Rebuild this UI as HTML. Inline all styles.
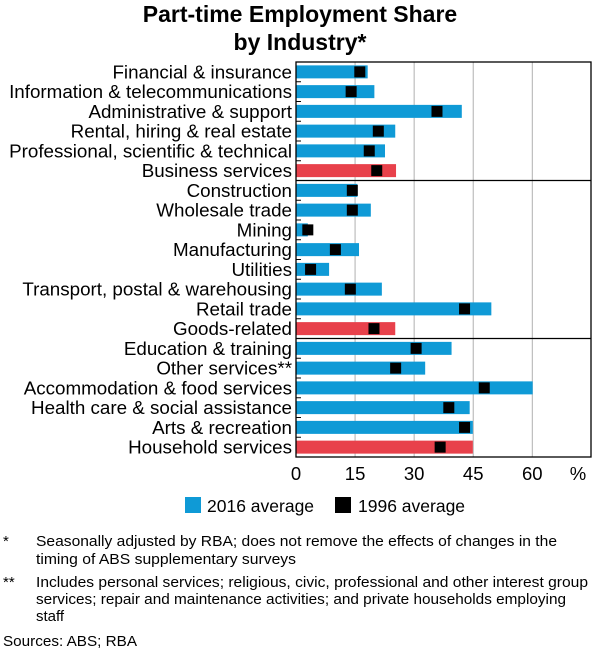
<!DOCTYPE html>
<html><head><meta charset="utf-8"><style>
body{margin:0;background:#fff;font-family:"Liberation Sans",Arial,sans-serif;}
#wrap{position:relative;width:600px;height:652px;overflow:hidden;}
</style></head><body><div id="wrap">
<svg id="chart" width="600" height="652" style="position:absolute;left:0;top:0">
<g font-size="15" font-family="Liberation Sans, Arial, sans-serif">
<text x="3" y="546">*</text>
<text><tspan x="36" y="546" textLength="521" lengthAdjust="spacingAndGlyphs">Seasonally adjusted by RBA; does not remove the effects of changes in the</tspan><tspan x="36" y="564" textLength="260" lengthAdjust="spacingAndGlyphs">timing of ABS supplementary surveys</tspan></text>
<text x="3" y="587">**</text>
<text><tspan x="36" y="587" textLength="552" lengthAdjust="spacingAndGlyphs">Includes personal services; religious, civic, professional and other interest group</tspan><tspan x="36" y="604" textLength="530" lengthAdjust="spacingAndGlyphs">services; repair and maintenance activities; and private households employing</tspan><tspan x="36" y="621">staff</tspan></text>
<text x="3" y="646" textLength="134" lengthAdjust="spacingAndGlyphs">Sources: ABS; RBA</text>
</g>
</svg>
</div>
<script>
const categories=["Financial & insurance","Information & telecommunications","Administrative & support","Rental, hiring & real estate","Professional, scientific & technical","Business services","Construction","Wholesale trade","Mining","Manufacturing","Utilities","Transport, postal & warehousing","Retail trade","Goods-related","Education & training","Other services**","Accommodation & food services","Health care & social assistance","Arts & recreation","Household services"];
const values2016=[18.2,19.9,42.1,25.2,22.6,25.4,15.6,19.0,3.0,16.0,8.4,21.8,49.6,25.2,39.5,32.8,60.1,44.1,44.9,44.9];
const values1996=[16.2,14.0,35.8,20.9,18.6,20.5,14.3,14.3,3.0,10.0,3.7,13.8,42.8,19.8,30.5,25.3,47.8,38.8,42.8,36.6];
const aggregates=["Business services","Goods-related","Household services"];
const ticks=[0,15,30,45,60];
const NS="http://www.w3.org/2000/svg";
const svg=document.getElementById('chart');
const L=296,R=591,T=62,B=457,xmax=74.9;
const x=v=>L+v*(532.3-L)/60;
const rowH=(B-T)/categories.length;
const y=i=>T+rowH*(i+0.5);
function mk(t,a){const e=document.createElementNS(NS,t);for(const k in a)e.setAttribute(k,a[k]);svg.appendChild(e);return e;}
function txt(s,a){const e=mk('text',a);e.textContent=s;return e;}
let e;
e=txt("Part-time Employment Share",{x:300,y:22,'text-anchor':'middle','font-size':23,'font-weight':'bold'});


e=txt("by Industry*",{x:300,y:50,'text-anchor':'middle','font-size':23,'font-weight':'bold'});


ticks.forEach(t=>{
 if(t>0&&t<xmax){e=mk('line',{x1:x(t),x2:x(t),y1:T,y2:B,stroke:'#b0b0b0','stroke-width':1});
 
 }
 e=txt(String(t),{x:x(t),y:480,'text-anchor':'middle','font-size':18.5});
 
 
});
e=txt("%",{x:578,y:480,'text-anchor':'middle','font-size':18.5});


categories.forEach((c,i)=>{
 const agg=aggregates.includes(c);
 e=mk('rect',{x:L,y:y(i)-6.5,width:x(values2016[i])-L,height:13,fill:agg?'#e8414b':'#0f9ad6'});
 
 
 e=mk('rect',{x:x(values1996[i])-5.5,y:y(i)-5.5,width:11,height:11,fill:'#000'});
 
 
 e=txt(c,{x:292,y:y(i)+6.5,'text-anchor':'end','font-size':18.8});
 
 
 e=mk('line',{x1:L,x2:L+5,y1:T+rowH*i,y2:T+rowH*i,stroke:'#000'});
 
 
});
[6,14].forEach(k=>{e=mk('line',{x1:L,x2:R,y1:T+rowH*k,y2:T+rowH*k,stroke:'#000','stroke-width':1.3});
 
 });
e=mk('rect',{x:L,y:T,width:R-L,height:B-T,fill:'none',stroke:'#000','stroke-width':1.3});


e=mk('rect',{x:185,y:497,width:16,height:16,fill:'#0f9ad6'});


e=txt("2016 average",{x:207,y:512,'font-size':17.5});


e=mk('rect',{x:335,y:497,width:16,height:16,fill:'#000'});


e=txt("1996 average",{x:358,y:512,'font-size':17.5});


</script></body></html>
